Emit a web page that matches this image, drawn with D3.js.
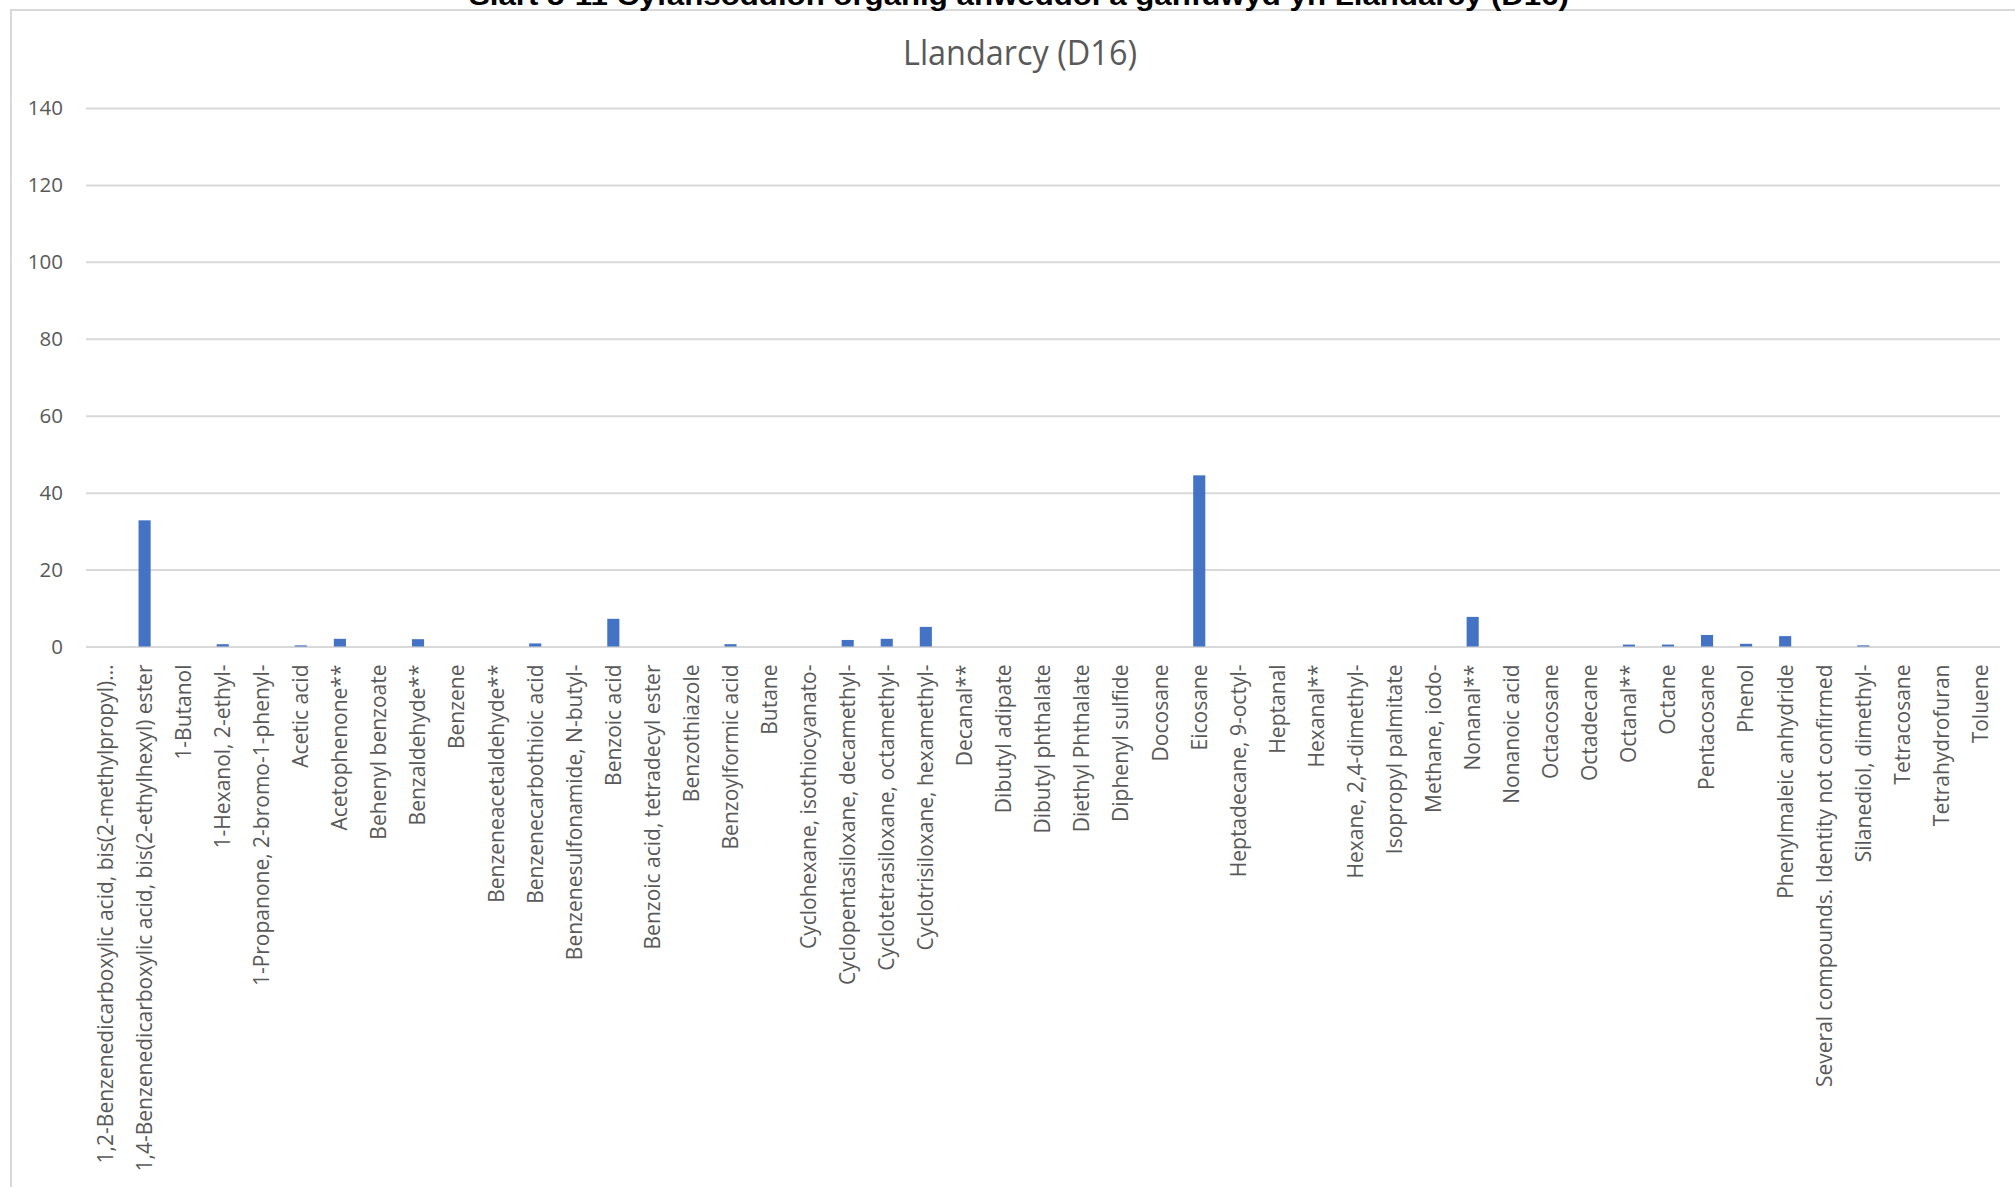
<!DOCTYPE html>
<html>
<head>
<meta charset="utf-8">
<script src="https://cdn.jsdelivr.net/npm/d3@7"></script>
<style>
  html, body { margin: 0; padding: 0; background: #ffffff; overflow: hidden; }
  svg { display: block; }
</style>
</head>
<body>
<svg id="chart" width="2015" height="1187"></svg>
<script>
// ---------- DATA ----------
const categories = [
  "1,2-Benzenedicarboxylic acid, bis(2-methylpropyl)…",
  "1,4-Benzenedicarboxylic acid, bis(2-ethylhexyl) ester",
  "1-Butanol",
  "1-Hexanol, 2-ethyl-",
  "1-Propanone, 2-bromo-1-phenyl-",
  "Acetic acid",
  "Acetophenone**",
  "Behenyl benzoate",
  "Benzaldehyde**",
  "Benzene",
  "Benzeneacetaldehyde**",
  "Benzenecarbothioic acid",
  "Benzenesulfonamide, N-butyl-",
  "Benzoic acid",
  "Benzoic acid, tetradecyl ester",
  "Benzothiazole",
  "Benzoylformic acid",
  "Butane",
  "Cyclohexane, isothiocyanato-",
  "Cyclopentasiloxane, decamethyl-",
  "Cyclotetrasiloxane, octamethyl-",
  "Cyclotrisiloxane, hexamethyl-",
  "Decanal**",
  "Dibutyl adipate",
  "Dibutyl phthalate",
  "Diethyl Phthalate",
  "Diphenyl sulfide",
  "Docosane",
  "Eicosane",
  "Heptadecane, 9-octyl-",
  "Heptanal",
  "Hexanal**",
  "Hexane, 2,4-dimethyl-",
  "Isopropyl palmitate",
  "Methane, iodo-",
  "Nonanal**",
  "Nonanoic acid",
  "Octacosane",
  "Octadecane",
  "Octanal**",
  "Octane",
  "Pentacosane",
  "Phenol",
  "Phenylmaleic anhydride",
  "Several compounds. Identity not confirmed",
  "Silanediol, dimethyl-",
  "Tetracosane",
  "Tetrahydrofuran",
  "Toluene"
];
const values = [
  0, 32.8, 0, 0.6, 0, 0.3, 2.0, 0, 1.9, 0,
  0, 0.8, 0, 7.2, 0, 0, 0.6, 0, 0, 1.7,
  2.0, 5.1, 0, 0, 0, 0, 0, 0, 44.5, 0,
  0, 0, 0, 0, 0, 7.7, 0, 0, 0, 0.5,
  0.5, 3.0, 0.7, 2.7, 0, 0.3, 0, 0, 0
];
const yTickValues = [0, 20, 40, 60, 80, 100, 120, 140];
const chartTitle = "Llandarcy (D16)";
const pageTitle = "Siart 5-11 Cyfansoddion organig anweddol a ganfuwyd yn Llandarcy (D16)";

// ---------- LAYOUT ----------
const W = 2015, H = 1187;
const plotLeft = 86, plotRight = 2000, plotTop = 108, plotBottom = 646.5;
const textColor = "#595959";
const gridColor = "#D9D9D9";
const barColor = "#4472C4";
const fontFam = "'Open Sans', 'Noto Sans', sans-serif";

const svg = d3.select("#chart");

// chart border (left & top)
svg.append("line").attr("x1", 11).attr("x2", 11).attr("y1", 10).attr("y2", H)
  .attr("stroke", gridColor).attr("stroke-width", 2);
svg.append("line").attr("x1", 10).attr("x2", W).attr("y1", 10).attr("y2", 10)
  .attr("stroke", gridColor).attr("stroke-width", 2);

// page title (cut off at the top edge, as in the reference)
svg.append("text")
  .attr("x", 1019).attr("y", 5)
  .attr("text-anchor", "middle")
  .attr("font-family", "'Liberation Sans', Arial, sans-serif")
  .attr("font-weight", "bold")
  .attr("font-size", 27)
  .attr("fill", "#000")
  .attr("textLength", 1100)
  .attr("lengthAdjust", "spacingAndGlyphs")
  .text(pageTitle);

// chart title
svg.append("text")
  .attr("x", 1020).attr("y", 65)
  .attr("text-anchor", "middle")
  .attr("font-family", "'Open Sans', sans-serif")
  .attr("font-weight", 400)
  .attr("font-size", 34)
  .attr("fill", textColor)
  .attr("textLength", 234)
  .attr("lengthAdjust", "spacingAndGlyphs")
  .text(chartTitle);

// scales
const x = d3.scaleBand()
  .domain(categories)
  .range([plotLeft, plotRight])
  .paddingInner(0.69)
  .paddingOuter(0.345);

const y = d3.scaleLinear()
  .domain([0, 140])
  .range([plotBottom, plotTop]);

// y axis with gridlines
const yAxis = d3.axisLeft(y)
  .tickValues(yTickValues)
  .tickSizeInner(-(plotRight - plotLeft))
  .tickSizeOuter(0)
  .tickPadding(23);

const gy = svg.append("g")
  .attr("transform", `translate(${plotLeft},0)`)
  .call(yAxis);
gy.select(".domain").remove();
gy.selectAll(".tick line").attr("stroke", gridColor).attr("stroke-width", 2);
gy.selectAll(".tick text")
  .attr("fill", textColor)
  .attr("font-family", fontFam)
  .attr("font-size", 20.5);

// bars
svg.append("g").selectAll("rect")
  .data(categories.map((c, i) => ({ c, v: values[i] })))
  .join("rect")
  .attr("x", d => x(d.c))
  .attr("width", x.bandwidth())
  .attr("y", d => y(d.v))
  .attr("height", d => y(0) - y(d.v))
  .attr("fill", barColor);

// x axis (category labels, rotated)
const xAxis = d3.axisBottom(x).tickSize(0).tickPadding(0);
const gx = svg.append("g")
  .attr("transform", `translate(0,${plotBottom})`)
  .call(xAxis);
gx.select(".domain").remove();
gx.selectAll(".tick text")
  .attr("fill", textColor)
  .attr("font-family", fontFam)
  .attr("font-size", 21)
  .attr("text-anchor", "end")
  .attr("transform", "translate(0,18) rotate(-90)")
  .attr("x", 0)
  .attr("y", 0)
  .attr("dy", "0.35em");
</script>
</body>
</html>
